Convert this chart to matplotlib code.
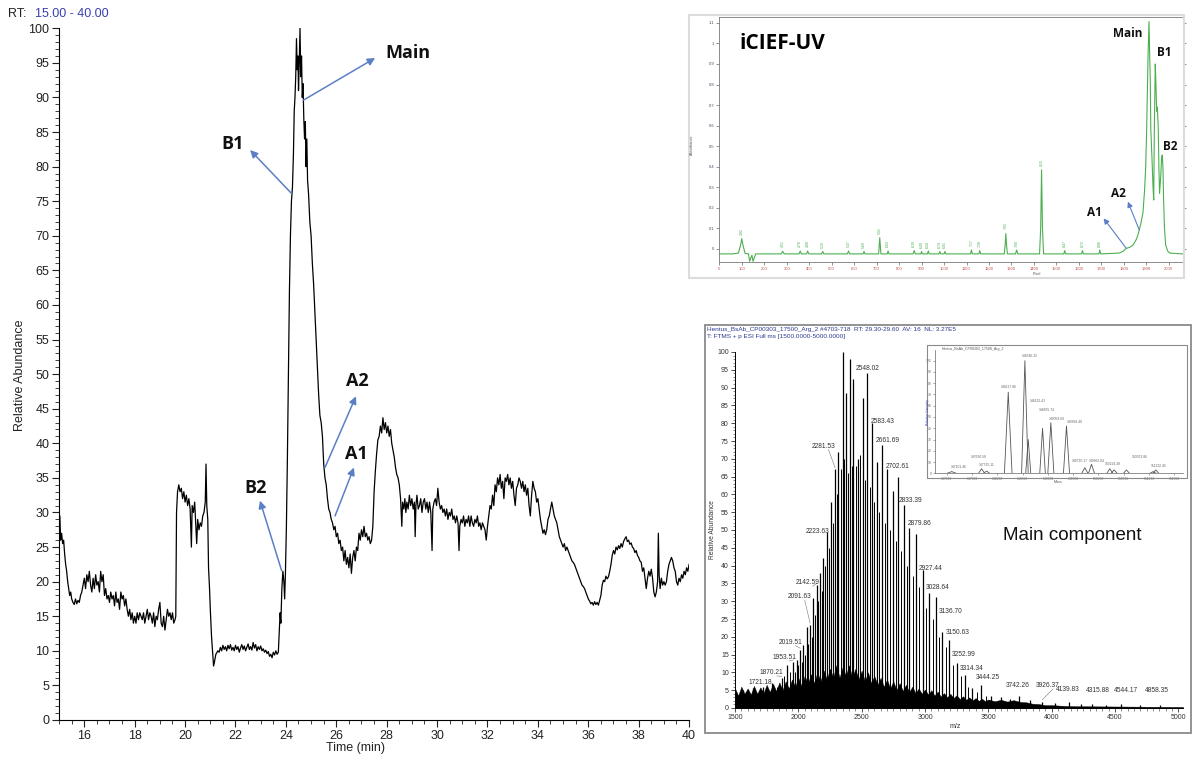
import matplotlib
matplotlib.use('Agg')
import matplotlib.pyplot as plt
from matplotlib.patches import Rectangle
from matplotlib.ticker import MultipleLocator, FixedLocator

plt.rcParams['font.family'] = 'Liberation Sans'

W, H = 1193, 761

# ---------------- data: main chromatogram (TIC) ----------------
rt_time = [
    15.00, 15.03, 15.06, 15.10, 15.14, 15.18, 15.22, 15.26, 15.30, 15.34, 15.38, 15.42, 15.46, 15.50,
    15.55, 15.60, 15.65, 15.70, 15.75, 15.80, 15.85, 15.90, 15.95, 16.00, 16.05, 16.10, 16.15, 16.20,
    16.25, 16.30, 16.35, 16.40, 16.45, 16.50, 16.55, 16.60, 16.65, 16.70, 16.75, 16.80, 16.85, 16.90,
    16.95, 17.00, 17.05, 17.10, 17.15, 17.20, 17.25, 17.30, 17.35, 17.40, 17.45, 17.50, 17.55, 17.60,
    17.65, 17.70, 17.75, 17.80, 17.85, 17.90, 17.95, 18.00, 18.05, 18.10, 18.15, 18.20, 18.25, 18.30,
    18.35, 18.40, 18.45, 18.50, 18.55, 18.60, 18.65, 18.70, 18.75, 18.80, 18.85, 18.90, 18.95, 19.00,
    19.05, 19.10, 19.15, 19.20, 19.25, 19.30, 19.35, 19.40, 19.45, 19.50, 19.55, 19.60, 19.63, 19.66,
    19.70, 19.75, 19.80, 19.85, 19.90, 19.95, 20.00, 20.05, 20.10, 20.15, 20.20, 20.25, 20.28, 20.33,
    20.38, 20.42, 20.46, 20.50, 20.55, 20.60, 20.65, 20.70, 20.75, 20.80, 20.83, 20.86, 20.90, 20.93,
    20.97, 21.00, 21.05, 21.10, 21.13, 21.17, 21.22, 21.30, 21.35, 21.40, 21.45, 21.50, 21.55, 21.60,
    21.65, 21.70, 21.75, 21.80, 21.85, 21.90, 21.95, 22.00, 22.05, 22.10, 22.15, 22.20, 22.25, 22.30,
    22.35, 22.40, 22.45, 22.50, 22.55, 22.60, 22.65, 22.70, 22.75, 22.80, 22.85, 22.90, 22.95, 23.00,
    23.05, 23.10, 23.15, 23.20, 23.25, 23.30, 23.35, 23.40, 23.45, 23.50, 23.55, 23.60, 23.65, 23.70,
    23.74, 23.77, 23.80, 23.84, 23.88, 23.92, 23.95, 23.98, 24.02, 24.06, 24.10, 24.14, 24.18, 24.22,
    24.26, 24.30, 24.33, 24.36, 24.39, 24.42, 24.45, 24.48, 24.50, 24.53, 24.56, 24.59, 24.62, 24.65,
    24.68, 24.71, 24.74, 24.77, 24.80, 24.83, 24.86, 24.90, 24.95, 25.00, 25.05, 25.10, 25.15, 25.20,
    25.25, 25.30, 25.35, 25.40, 25.45, 25.50, 25.55, 25.60, 25.65, 25.70, 25.75, 25.80, 25.85, 25.90,
    25.95, 26.00, 26.05, 26.10, 26.15, 26.20, 26.25, 26.30, 26.35, 26.40, 26.45, 26.50, 26.55, 26.60,
    26.65, 26.70, 26.75, 26.80, 26.85, 26.90, 26.95, 27.00, 27.05, 27.10, 27.15, 27.20, 27.25, 27.30,
    27.35, 27.40, 27.45, 27.50, 27.55, 27.60, 27.65, 27.70, 27.75, 27.80, 27.85, 27.90, 27.95, 28.00,
    28.05, 28.10, 28.15, 28.20, 28.25, 28.30, 28.35, 28.40, 28.45, 28.50, 28.55, 28.60, 28.63, 28.68,
    28.72, 28.76, 28.80, 28.85, 28.90, 28.95, 29.00, 29.05, 29.10, 29.13, 29.16, 29.20, 29.25, 29.30,
    29.35, 29.40, 29.45, 29.50, 29.55, 29.60, 29.65, 29.70, 29.75, 29.80, 29.83, 29.88, 29.93, 29.98,
    30.03, 30.08, 30.13, 30.18, 30.23, 30.28, 30.33, 30.38, 30.43, 30.48, 30.53, 30.58, 30.63, 30.68,
    30.73, 30.78, 30.83, 30.87, 30.90, 30.95, 31.00, 31.05, 31.10, 31.15, 31.20, 31.25, 31.30, 31.35,
    31.40, 31.45, 31.50, 31.55, 31.60, 31.65, 31.70, 31.75, 31.80, 31.85, 31.90, 31.95, 32.00, 32.05,
    32.10, 32.15, 32.20, 32.25, 32.30, 32.35, 32.40, 32.45, 32.50, 32.55, 32.60, 32.65, 32.70, 32.75,
    32.80, 32.85, 32.90, 32.95, 33.00, 33.05, 33.10, 33.15, 33.20, 33.25, 33.30, 33.35, 33.40, 33.45,
    33.50, 33.55, 33.60, 33.65, 33.70, 33.75, 33.80, 33.85, 33.90, 33.95, 34.00, 34.05, 34.10, 34.15,
    34.20, 34.25, 34.30, 34.35, 34.40, 34.45, 34.50, 34.55, 34.60, 34.65, 34.70, 34.75, 34.80, 34.85,
    34.90, 34.95, 35.00, 35.05, 35.10, 35.15, 35.20, 35.25, 35.30, 35.35, 35.40, 35.45, 35.50, 35.55,
    35.60, 35.65, 35.70, 35.75, 35.80, 35.85, 35.90, 35.95, 36.00, 36.05, 36.10, 36.15, 36.20, 36.25,
    36.30, 36.35, 36.40, 36.45, 36.50, 36.55, 36.60, 36.65, 36.70, 36.75, 36.80, 36.85, 36.90, 36.95,
    37.00, 37.05, 37.10, 37.15, 37.20, 37.25, 37.30, 37.35, 37.40, 37.45, 37.50, 37.55, 37.60, 37.65,
    37.70, 37.75, 37.80, 37.85, 37.90, 37.95, 38.00, 38.05, 38.10, 38.15, 38.20, 38.25, 38.30, 38.35,
    38.40, 38.45, 38.50, 38.55, 38.60, 38.65, 38.70, 38.75, 38.78, 38.81, 38.85, 38.90, 38.95, 39.00,
    39.05, 39.10, 39.15, 39.20, 39.25, 39.30, 39.35, 39.40, 39.45, 39.50, 39.55, 39.60, 39.65, 39.70,
    39.75, 39.80, 39.85, 39.90, 39.95, 40.00]
rt_abund = [
    26.5, 29.5, 26.0, 27.0, 25.5, 26.0, 24.0, 22.5, 21.5, 20.0, 19.0, 18.0, 18.5, 17.5,
    17.0, 16.7, 17.5, 16.8, 17.3, 17.0, 18.0, 18.5, 19.5, 20.5, 19.0, 21.0, 20.0, 21.5,
    19.5, 18.5, 20.5, 19.0, 21.0, 19.5, 20.0, 18.5, 21.5, 20.0, 21.0, 18.0, 19.0, 17.5,
    18.0, 17.0, 18.5, 17.5, 18.0, 16.5, 18.5, 17.0, 17.5, 16.0, 18.5, 17.5, 18.0, 16.5,
    17.5, 16.0, 15.0, 16.0, 14.5, 15.5, 14.0, 15.0, 14.0, 15.5, 14.5, 15.5, 15.0, 14.5,
    15.5, 14.0, 15.0, 16.0, 14.5, 15.5, 15.0, 14.0, 15.5, 13.5, 15.0, 14.5, 16.0, 17.0,
    14.0, 13.5, 15.0, 13.0, 14.5, 16.0, 15.0, 15.5, 14.5, 15.5, 14.0, 14.5, 15.0, 30.0,
    33.0, 34.0, 33.0, 33.5, 32.0, 33.0, 31.5, 32.5, 31.0, 32.0, 30.5, 25.0, 31.0, 30.0,
    31.5, 28.5, 25.5, 29.0, 27.5, 28.5, 28.0, 29.5, 30.0, 31.5, 37.0, 31.0, 29.0, 22.0,
    19.0, 16.0, 12.0, 9.5, 7.8, 8.5, 9.5, 10.0, 9.8, 10.5, 10.0, 10.8, 10.2, 10.6,
    10.0, 10.8, 10.3, 10.9, 10.1, 10.5, 10.0, 10.8, 10.2, 10.6, 9.8, 10.4, 10.9, 10.2,
    10.7, 10.0, 10.5, 11.0, 10.2, 10.6, 10.1, 11.2, 10.4, 10.9, 10.0, 10.6, 10.2, 10.7,
    10.0, 10.3, 9.8, 10.1, 9.6, 9.9, 9.2, 9.5, 9.0, 9.8, 9.4, 10.0, 9.5, 9.8,
    13.0, 15.5, 14.0, 19.0, 21.5, 20.0, 17.5, 21.0, 28.0, 38.0, 50.0, 62.0, 70.0, 75.0,
    77.0, 82.0, 88.0, 90.0, 93.0, 98.5, 94.0, 96.0, 91.0, 95.0, 100.0, 93.0, 96.0, 90.0,
    92.0, 87.0, 84.0, 86.5, 80.0, 84.0, 78.0, 76.0, 72.0, 70.0, 66.0, 63.0, 59.0, 55.0,
    51.0, 47.0, 44.0, 43.0, 41.0, 37.0, 35.0, 34.0, 32.0, 30.5, 30.0, 29.0, 28.5, 27.5,
    28.0, 26.5, 27.0, 25.5, 26.0, 24.5, 25.0, 23.0, 24.5, 22.5, 23.5, 22.0, 24.0, 21.2,
    23.5, 24.5, 23.0, 25.0, 24.5, 27.0, 26.0, 27.5, 26.5, 28.0, 26.5, 27.0, 26.0, 26.5,
    25.5, 26.0, 28.0, 33.0, 36.0, 38.5, 40.5, 41.0, 42.5, 41.5, 43.7, 42.0, 43.0, 41.5,
    42.5, 41.0, 42.0, 40.0, 39.0, 38.0, 36.5, 35.5, 35.0, 34.0, 32.0, 28.0, 31.5, 30.5,
    32.0, 30.0, 31.5, 30.5, 32.5, 31.0, 32.0, 30.5, 31.5, 26.5, 31.0, 32.5, 30.5, 31.0,
    32.0, 30.0, 31.5, 32.0, 30.5, 31.5, 30.0, 31.5, 30.0, 24.5, 30.5, 31.5, 32.0, 31.0,
    33.5, 31.5, 30.5, 31.0, 30.0, 30.5, 29.5, 30.5, 29.0, 30.0, 29.5, 30.5, 29.0, 29.5,
    28.5, 29.5, 28.5, 24.5, 28.0, 29.0, 28.5, 29.5, 28.0, 29.0, 28.5, 29.5, 28.0, 29.5,
    28.5, 28.0, 29.0, 28.5, 29.5, 28.0, 28.5, 27.5, 28.5, 28.0, 27.5, 26.0, 28.0, 29.5,
    31.0, 30.5, 32.5, 31.0, 34.0, 33.0, 35.0, 34.0, 35.5, 33.5, 34.5, 32.0, 35.0, 34.5,
    35.5, 34.0, 35.0, 33.5, 34.5, 32.5, 31.0, 33.5, 34.0, 35.0, 34.5, 33.5, 34.5, 33.0,
    34.0, 32.5, 33.5, 31.0, 29.5, 32.5, 34.5, 33.5, 33.0, 31.5, 32.0, 30.5, 29.0, 28.0,
    27.0, 27.5, 26.8, 27.5, 29.0, 29.5, 30.5, 31.5, 30.5, 29.5, 29.0, 28.5, 27.5, 26.5,
    26.0, 25.5, 25.0, 25.5, 24.5, 25.0, 24.5, 24.0, 23.5, 23.0, 22.8, 22.5, 22.0, 21.5,
    21.0, 20.5, 20.0, 19.5, 19.3, 19.0, 18.5, 18.0, 17.5, 17.2, 16.8, 17.0, 16.6, 17.1,
    16.7, 17.0, 16.6, 17.3, 18.0, 19.5, 20.2, 20.0, 20.8, 20.4, 20.7, 21.5, 22.5, 23.8,
    24.5, 24.0, 25.0, 24.6, 25.2, 24.8, 25.5, 25.0, 25.8, 26.2, 26.5, 25.8, 26.0, 25.4,
    25.6, 25.0, 24.8, 24.2, 24.5, 23.8, 23.5, 23.0, 22.8, 21.5, 22.0, 20.5, 19.0, 20.5,
    21.5, 20.8, 21.8, 20.5, 18.5, 17.8, 18.5, 20.0, 27.0, 21.0, 19.0, 20.5, 19.5, 20.0,
    19.5, 20.0, 21.5, 22.5, 23.0, 23.5, 23.0, 22.0, 21.5, 20.0, 19.5, 20.5, 20.0, 21.0,
    20.5, 21.5, 21.0, 22.0, 21.5, 22.5]

# annotations on the chromatogram: label, arrow tail (on trace), arrow head, text position
chrom_labels = ['Main', 'B1', 'B2', 'A2', 'A1']
chrom_tail = [(24.69, 89.6), (24.23, 76.1), (23.83, 21.6), (25.55, 36.5), (25.95, 29.5)]
chrom_head = [(27.54, 95.7), (22.58, 82.4), (22.97, 31.7), (26.78, 46.8), (26.70, 36.5)]
chrom_text = [(27.93, 96.4), (21.88, 83.3), (22.80, 33.6), (26.84, 49.0), (26.81, 38.4)]

# ---------------- data: iCIEF-UV trace ----------------
icief_x = [0, 60, 85, 95, 100, 105, 115, 130, 135, 140, 145, 150, 155, 162,
           275, 282, 289, 355, 360, 365, 388, 393, 398, 455, 460, 465, 570, 575, 580,
           640, 644, 648, 709, 714, 719, 747, 751, 755, 862, 867, 872, 897, 900, 903,
           926, 930, 934, 977, 981, 985, 1000, 1004, 1008, 1118, 1122, 1126, 1155, 1159, 1163,
           1268, 1272, 1275, 1278, 1282, 1318, 1323, 1328, 1425, 1430, 1434, 1438, 1443,
           1533, 1537, 1541, 1612, 1616, 1620, 1689, 1693, 1697, 1780, 1796, 1811, 1826,
           1841, 1855, 1863, 1875, 1885, 1892, 1897, 1901, 1904, 1908, 1912, 1915, 1918,
           1920, 1922, 1925, 1930, 1933, 1936, 1940, 1943, 1946, 1949, 1953, 1956, 1959,
           1964, 1968, 1971, 1974, 1977, 1981, 1986, 1995, 2004, 2062]
icief_y = [-0.024, -0.024, -0.02, 0.02, 0.05, 0.02, -0.022, -0.024, -0.06, -0.045, -0.03, -0.06, -0.045, -0.024,
           -0.024, -0.012, -0.024, -0.024, -0.01, -0.024, -0.024, -0.01, -0.024, -0.024, -0.012, -0.024,
           -0.024, -0.01, -0.024, -0.024, -0.012, -0.024, -0.024, 0.055, -0.024, -0.024, -0.01, -0.024,
           -0.024, -0.008, -0.024, -0.024, -0.012, -0.024, -0.024, -0.01, -0.024, -0.024, -0.012, -0.024,
           -0.024, -0.012, -0.024, -0.024, -0.005, -0.024, -0.024, -0.008, -0.024,
           -0.024, 0.02, 0.075, 0.02, -0.024, -0.024, -0.005, -0.024, -0.024, 0.1, 0.385, 0.1, -0.024,
           -0.024, -0.008, -0.024, -0.024, -0.008, -0.024, -0.024, -0.005, -0.024, -0.02, -0.012, 0.003, 0.008,
           0.019, 0.045, 0.068, 0.12, 0.175, 0.28, 0.39, 0.55, 0.725, 0.95, 1.106, 0.95, 0.8,
           0.58, 0.53, 0.45, 0.3, 0.238, 0.6, 0.9, 0.8, 0.67, 0.69, 0.6, 0.4, 0.27,
           0.35, 0.44, 0.457, 0.4, 0.24, 0.1, 0.02, -0.01, -0.02, -0.024]
icief_tag_x = [100, 282, 360, 393, 460, 575, 644, 714, 751, 867, 900, 930, 981, 1004,
               1122, 1159, 1275, 1323, 1434, 1537, 1616, 1693]
icief_tag_y = [0.06, 0.0, 0.0, 0.0, -0.005, 0.0, -0.005, 0.065, 0.0, 0.0, -0.005, -0.005, -0.005, -0.005,
               0.005, 0.0, 0.085, 0.0, 0.395, 0.0, 0.0, 0.0]
icief_tags = ['3.92', '4.51', '4.76', '4.88', '5.10', '5.47', '5.69', '5.91', '6.03', '6.39', '6.49',
              '6.58', '6.74', '6.81', '7.17', '7.28', '7.65', '7.80', '8.15', '8.47', '8.72', '8.96']
icief_labels = ['Main', 'B1', 'B2', 'A2', 'A1']
icief_text = [(1819, 1.05), (1978, 0.957), (2007, 0.50), (1778, 0.27), (1670, 0.177)]
icief_arrows = [((1869, 0.092), (1818, 0.23)), ((1811, 0.003), (1710, 0.149))]

# ---------------- data: mass spectrum ----------------
ms_main_mz = [1566, 1640, 1721, 1790, 1869, 1913, 1961, 1987, 2014, 2040, 2066, 2093, 2119, 2145,
              2172, 2198, 2224, 2257, 2290, 2316, 2351, 2377, 2408, 2435, 2474, 2509, 2545, 2580,
              2619, 2664, 2703, 2746, 2790, 2835, 2877, 2930, 2983, 3033, 3086, 3138, 3191, 3251,
              3312, 3375, 3443, 3520, 3600, 3670, 3742, 3830, 3926, 4030, 4140, 4230, 4316, 4430,
              4544, 4700, 4858]
ms_main_h = [5, 5.5, 6, 7, 8.4, 12, 13, 13.5, 16.3, 17.7, 22.8, 23.3, 31, 34.5,
             38, 42, 49.5, 58, 67, 72, 100, 88.5, 98, 92.5, 70, 87, 94, 80,
             69, 74, 67, 61, 65, 57, 50.5, 49, 38.8, 32.4, 31.3, 21.4, 19, 12.6,
             9.3, 5.6, 6.5, 3.5, 3, 2.5, 3.5, 2.2, 1.8, 1.5, 1.6, 1.0, 1.2, 0.9,
             1.0, 0.8, 0.8]
ms_sec_mz = [1600, 1680, 1750, 1830, 1890, 1937, 1974, 2000, 2027, 2053, 2080, 2106, 2132, 2158,
             2185, 2211, 2240, 2273, 2303, 2333, 2364, 2392, 2421, 2455, 2490, 2527, 2562, 2600,
             2640, 2684, 2725, 2768, 2812, 2856, 2903, 2956, 3008, 3060, 3112, 3165, 3220, 3282,
             3343, 3410, 3480]
ms_sec_h = [3.5, 4, 4.5, 6, 9, 10, 10, 12, 13, 15, 18, 20, 26, 30,
            33, 40, 45, 52, 60, 67, 70, 66, 68, 68, 71, 64, 62, 58,
            55, 52, 50, 47, 44, 40, 37, 34, 28, 25, 20, 17, 12, 9,
            6, 4.5, 3.5]
ms_noise_mz = [1500, 1525, 1550, 1575, 1600, 1625, 1650, 1675, 1700, 1725, 1750, 1775, 1800, 1825,
               1850, 1875, 1900, 1925, 1950, 1975, 2000, 2025, 2050, 2075, 2100, 2125, 2150, 2175,
               2200, 2225, 2250, 2275, 2300, 2325, 2350, 2375, 2400, 2425, 2450, 2475, 2500, 2525,
               2550, 2575, 2600, 2625, 2650, 2675, 2700, 2725, 2750, 2775, 2800, 2825, 2850, 2875,
               2900, 2925, 2950, 2975, 3000, 3025, 3050, 3075, 3100, 3125, 3150, 3175, 3200, 3225,
               3250, 3275, 3300, 3325, 3350, 3375, 3400, 3425, 3450, 3475, 3500, 3550, 3600, 3650,
               3700, 3750, 3800, 3850, 3900, 3950, 4000, 4100, 4200, 4400, 4600, 4800, 5037]
ms_noise_h = [5.5, 3.5, 6, 4, 5.5, 3.8, 6.2, 4, 5.8, 4.2, 6.5, 4.5, 6.8, 4.8,
              7.2, 5, 7.5, 5.5, 8, 6, 8.5, 6.2, 9, 6.8, 9.5, 7, 10, 7.5,
              10.5, 8, 11, 8.5, 12, 8.5, 11.5, 9, 12, 8.5, 11, 8, 10.5, 7.5,
              10, 7, 9, 6.5, 8.5, 6, 8, 5.5, 7.5, 5, 7, 4.8, 6.5, 4.5,
              6, 4.2, 5.5, 4, 5.2, 3.8, 5, 3.5, 4.6, 3.2, 4.2, 3, 4, 2.8,
              3.6, 2.5, 3.3, 2.3, 3, 2.1, 2.8, 2, 2.6, 1.9, 2.4, 1.9, 2.3, 1.8,
              2.2, 1.7, 1.6, 1.2, 1.1, 0.8, 0.8, 0.6, 0.5, 0.45, 0.4, 0.35, 0.3]
# peak labels: text, peak (m/z, height), text position, leader line
ms_lbl_txt = ['1721.18', '1870.21', '1953.51', '2019.51', '2091.63', '2142.59', '2223.63', '2281.53',
              '2548.02', '2583.43', '2661.69', '2702.61', '2833.39', '2879.86', '2927.44', '3028.64',
              '3136.70', '3150.63', '3252.99', '3314.34', '3444.25', '3742.26', '3926.37', '4139.83',
              '4315.88', '4544.17', '4858.35']
ms_lbl_pk = [(1721, 6), (1869, 8.4), (1961, 13), (2014, 16.3), (2093, 23.3), (2145, 34.5), (2224, 49.5),
             (2290, 67), (2545, 94), (2580, 80), (2664, 74), (2703, 67), (2835, 57), (2877, 50.5),
             (2983, 38.8), (3033, 32.4), (3086, 31.3), (3138, 21.4), (3251, 12.6), (3312, 9.3),
             (3443, 6.5), (3742, 3.5), (3926, 1.8), (4140, 1.6), (4316, 1.2), (4544, 1.0), (4858, 0.8)]
ms_lbl_pos = [(1704, 6.2), (1790, 9.0), (1887, 13.2), (1938, 17.5), (2011, 30.2), (2073, 34.2), (2156, 48.7),
              (2198, 72.6), (2545, 94.3), (2665, 79.6), (2705, 74.2), (2780, 66.9), (2883, 57.4), (2960, 50.9),
              (3048, 38.2), (3100, 32.9), (3202, 26.1), (3258, 20.2), (3309, 14.1), (3370, 10.2),
              (3495, 7.6), (3732, 5.3), (3969, 5.3), (4127, 4.3), (4364, 4.0), (4587, 3.9), (4831, 4.0)]
ms_lbl_lead = [False, True, True, True, True, True, False, True, False, False, False, False, False, False,
               False, False, False, False, False, False, False, False, True, False, False, False, False]

# deconvoluted inset
dec_mass = [147100, 147690, 147790, 148217, 148546, 148612, 148895, 149059, 149368, 149730, 149862,
            150224, 150309, 150553, 151079, 151132]
dec_h = [1.5, 4, 2, 72, 100, 30, 40, 45, 42, 5, 8, 4, 3, 3, 1.5, 3]
dec_w = [90, 60, 60, 75, 65, 50, 55, 60, 60, 60, 60, 60, 60, 60, 60, 60]
dec_lbl = ['147101.46', '147690.58', '147795.11', '148217.86', '148546.32', '148612.41', '148895.74',
           '149059.69', '149368.40', '149730.17', '149862.04', '150224.38', '150553.86', '151132.45']
dec_lbl_pos = [(147230, 3.6), (147625, 12.4), (147790, 5.9), (148217, 74.6), (148645, 102.7),
               (148809, 62), (148974, 54.7), (149171, 46.4), (149533, 43.8), (149632, 8.9),
               (149961, 8.9), (150289, 6.5), (150816, 12.7), (151178, 5.0)]


def fx(px):
    return px / W


def fy(py):
    return 1 - py / H


fig = plt.figure(figsize=(W / 100, H / 100), dpi=100)

# ====================== main chromatogram ======================
ax = fig.add_axes([fx(59.1), fy(720), (689.1 - 59.1) / W, (720 - 28.3) / H])
ax.plot(rt_time, rt_abund, color='black', lw=0.9)
ax.set_xlim(15, 40)
ax.set_ylim(0, 100)
for s in ['top', 'right']:
    ax.spines[s].set_visible(False)
for s in ['left', 'bottom']:
    ax.spines[s].set_linewidth(0.8)
ax.xaxis.set_major_locator(MultipleLocator(2))
ax.xaxis.set_minor_locator(MultipleLocator(0.5))
ax.yaxis.set_major_locator(MultipleLocator(5))
ax.yaxis.set_minor_locator(MultipleLocator(1))
ax.tick_params(which='major', length=5, width=0.8, direction='out', labelsize=9, pad=2, colors='#222222')
ax.tick_params(which='minor', length=3, width=0.6, direction='out', colors='#222222')

arrow_col = '#5b7fc4'
for lab, tail, head, pos in zip(chrom_labels, chrom_tail, chrom_head, chrom_text):
    ax.annotate('', xy=head, xytext=tail,
                arrowprops=dict(arrowstyle='-|>', color=arrow_col, lw=1.1, mutation_scale=11,
                                shrinkA=0, shrinkB=0))
    ax.text(pos[0], pos[1], lab, fontsize=13, fontweight='bold', family='Open Sans',
            ha='left' if lab == 'Main' else 'center', va='center', color='#111111')

fig.text(fx(8), fy(14), 'RT:', fontsize=9, color='#222222', va='center')
fig.text(fx(35), fy(14), '15.00 - 40.00', fontsize=9, color='#3a3fb0', va='center')
fig.text(fx(20), fy(375), 'Relative Abundance', fontsize=9, rotation=90, ha='center', va='center',
         color='#222222')
fig.text(fx(355), fy(748), 'Time (min)', fontsize=9, ha='center', va='center', color='#222222')

# ====================== iCIEF-UV panel ======================
fig.add_artist(Rectangle((fx(689), fy(278)), (1184 - 689) / W, (278 - 15) / H, transform=fig.transFigure,
                         facecolor='none', edgecolor='#dcdcdc', lw=1.5))
axi = fig.add_axes([fx(719.3), fy(261.7), 463.4 / W, 245 / H])
axi.plot(icief_x, icief_y, color='#4caf50', lw=0.8)
axi.set_xlim(0, 2062)
axi.set_ylim(-0.062, 1.13)
for s in axi.spines.values():
    s.set_color('#777777')
    s.set_linewidth(0.6)
axi.yaxis.set_major_locator(FixedLocator([0, 0.1, 0.2, 0.3, 0.4, 0.5, 0.6, 0.7, 0.8, 0.9, 1.0, 1.1]))
axi.set_yticklabels(['0', '0.1', '0.2', '0.3', '0.4', '0.5', '0.6', '0.7', '0.8', '0.9', '1', '1.1'])
axi.xaxis.set_major_locator(MultipleLocator(100))
axi.tick_params(axis='both', length=2, width=0.5, labelsize=3, pad=1.5, colors='#666666')
axi.tick_params(axis='x', labelcolor='#c0504d')
axi.tick_params(axis='y', right=True, labelcolor='#444466')
for xv, yv, t in zip(icief_tag_x, icief_tag_y, icief_tags):
    axi.text(xv, yv + 0.01, t, fontsize=2.6, rotation=90, color='#4caf50', ha='center', va='bottom')
axi.text(90, 1.0, 'iCIEF-UV', fontsize=15, fontweight='bold', family='Open Sans', va='center', ha='left')
for lab, pos in zip(icief_labels, icief_text):
    axi.text(pos[0], pos[1], lab, fontsize=8.5, fontweight='bold', family='Open Sans',
             ha='center', va='center', color='#111111')
for tail, head in icief_arrows:
    axi.annotate('', xy=head, xytext=tail,
                 arrowprops=dict(arrowstyle='-|>', color=arrow_col, lw=0.8, mutation_scale=8,
                                 shrinkA=0, shrinkB=0))
fig.text(fx(692), fy(145), 'Absorbance', fontsize=2.8, rotation=90, ha='center', va='center', color='#555555')
fig.text(fx(1037), fy(274), 'Pixel', fontsize=2.8, ha='center', va='center', color='#555555')

# ====================== mass spectrum panel ======================
fig.add_artist(Rectangle((fx(705), fy(733)), (1191 - 705) / W, (733 - 325) / H, transform=fig.transFigure,
                         facecolor='none', edgecolor='#8a8a8a', lw=1.3))
fig.text(fx(707), fy(329), 'Hentus_BsAb_CP00303_17500_Arg_2 #4703-718  RT: 29.30-29.60  AV: 16  NL: 3.27E5',
         fontsize=4.6, color='#2b3a8f', va='center')
fig.text(fx(707), fy(336.5), 'T: FTMS + p ESI Full ms [1500.0000-5000.0000]', fontsize=4.6,
         color='#2b3a8f', va='center')

axm = fig.add_axes([fx(735), fy(708), 448 / W, 356 / H])
axm.fill_between(ms_noise_mz, 0, ms_noise_h, color='black', lw=0.3)
axm.vlines(ms_sec_mz, 0, ms_sec_h, color='black', lw=0.7)
axm.vlines(ms_main_mz, 0, ms_main_h, color='black', lw=0.9)
axm.set_xlim(1500, 5037)
axm.set_ylim(0, 100)
for s in ['top', 'right']:
    axm.spines[s].set_visible(False)
for s in ['left', 'bottom']:
    axm.spines[s].set_linewidth(0.7)
axm.xaxis.set_major_locator(MultipleLocator(500))
axm.xaxis.set_minor_locator(MultipleLocator(50))
axm.yaxis.set_major_locator(MultipleLocator(5))
axm.yaxis.set_minor_locator(MultipleLocator(1))
axm.tick_params(which='major', length=3, width=0.6, labelsize=5, pad=1.5, colors='#333333')
axm.tick_params(which='minor', length=1.8, width=0.4, colors='#333333')
for t, pk, pos, lead in zip(ms_lbl_txt, ms_lbl_pk, ms_lbl_pos, ms_lbl_lead):
    axm.text(pos[0], pos[1], t, fontsize=4.8, color='#333333', ha='center', va='bottom')
    if lead:
        axm.plot([pos[0] + 40, pk[0]], [pos[1], pk[1] + 0.5], color='#777777', lw=0.4)
fig.text(fx(712), fy(530), 'Relative Abundance', fontsize=4.8, rotation=90, ha='center', va='center',
         color='#333333')
fig.text(fx(955), fy(727), 'm/z', fontsize=5, ha='center', va='center', color='#333333')
fig.text(fx(1003), fy(536), 'Main component', fontsize=13.5, va='center', ha='left', color='#111111')

# deconvoluted inset
fig.add_artist(Rectangle((fx(926.7), fy(478)), (1186.7 - 926.7) / W, (478 - 345) / H,
                         transform=fig.transFigure, facecolor='none', edgecolor='#8a8a8a', lw=0.8))
axs = fig.add_axes([fx(935), fy(473.3), 248 / W, 123.3 / H])
axs.set_facecolor('none')
for m, h, w in zip(dec_mass, dec_h, dec_w):
    axs.plot([m - w, m, m + w], [0, h, 0], color='#555555', lw=0.6)
axs.axhline(0, color='#555555', lw=0.6)
axs.set_xlim(146770, 151670)
axs.set_ylim(0, 109.5)
for s in ['top', 'right']:
    axs.spines[s].set_visible(False)
for s in ['left', 'bottom']:
    axs.spines[s].set_linewidth(0.5)
    axs.spines[s].set_color('#666666')
axs.xaxis.set_major_locator(MultipleLocator(500))
axs.yaxis.set_major_locator(MultipleLocator(10))
axs.tick_params(length=1.5, width=0.4, labelsize=2.4, pad=1, colors='#666666')
for t, pos in zip(dec_lbl, dec_lbl_pos):
    axs.text(pos[0], pos[1], t, fontsize=2.4, color='#666666', ha='center', va='bottom')
fig.text(fx(942), fy(349), 'Hentus_BsAb_CP00303_17500_Arg_2', fontsize=2.6, color='#555555', va='center')
fig.text(fx(928), fy(412), 'Relative Intensity', fontsize=2.4, rotation=90, color='#3a3fb0',
         ha='center', va='center')
fig.text(fx(1058), fy(481.5), 'Mass', fontsize=2.6, color='#555555', ha='center', va='center')

fig.savefig('out.png', dpi=100)
